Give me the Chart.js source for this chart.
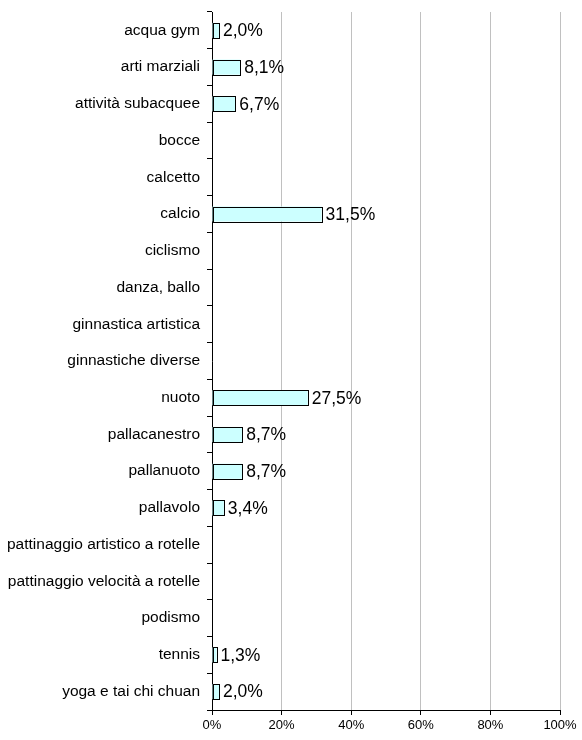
<!DOCTYPE html>
<html><head><meta charset="utf-8">
<script src="https://cdn.jsdelivr.net/npm/chart.js@4"></script>
<style>html,body{margin:0;padding:0;background:#fff}#wrap{width:582px;height:740px}</style>
</head><body><div id="wrap"><canvas id="c"></canvas></div>
<script>
const categories = ["acqua gym","arti marziali","attività subacquee","bocce","calcetto","calcio","ciclismo","danza, ballo","ginnastica artistica","ginnastiche diverse","nuoto","pallacanestro","pallanuoto","pallavolo","pattinaggio artistico a rotelle","pattinaggio velocità a rotelle","podismo","tennis","yoga e tai chi chuan"];
const values = [2.0,8.1,6.7,0,0,31.5,0,0,0,0,27.5,8.7,8.7,3.4,0,0,0,1.3,2.0];
const xTicks = [0,20,40,60,80,100];

const FONT = '"Liberation Sans", Arial, sans-serif';
const labelPlugin = {
  id:'vlabels',
  afterDatasetsDraw(chart){
    const ctx = chart.ctx;
    const meta = chart.getDatasetMeta(0);
    ctx.save();
    ctx.strokeStyle = '#000';
    ctx.lineWidth = 1;
    meta.data.forEach((bar,i)=>{
      if(!values[i]) return;
      const l = Math.round(bar.base), r = Math.round(bar.x);
      const t = Math.round(bar.y - bar.height/2), b = Math.round(bar.y + bar.height/2);
      ctx.strokeRect(l+0.5, t+0.5, r-l, b-t);
    });
    ctx.font = '17.5px ' + FONT;
    ctx.fillStyle = '#000';
    ctx.textBaseline = 'middle';
    ctx.textAlign = 'left';
    meta.data.forEach((bar,i)=>{
      const v = values[i];
      if(!v) return;
      ctx.fillText(v.toFixed(1).replace('.',',')+'%', bar.x+4, bar.y+1);
    });
    ctx.restore();
  }
};

new Chart(document.getElementById('c'),{
  type:'bar',
  data:{labels:categories,datasets:[{data:values,backgroundColor:'#ccffff',borderWidth:0,categoryPercentage:1,barPercentage:0.41}]},
  options:{
    indexAxis:'y',responsive:true,maintainAspectRatio:false,animation:false,
    layout:{padding:{left:0,top:12,right:22,bottom:0}},
    plugins:{legend:{display:false},tooltip:{enabled:false}},
    scales:{
      x:{min:0,max:100,
        afterBuildTicks(s){s.ticks = xTicks.map(v=>({value:v}));},
        afterFit(s){s.height=30;},
        grid:{color:'#c0c0c0',tickColor:'#000',tickLength:5,drawOnChartArea:true},
        border:{color:'#000',width:1},
        ticks:{color:'#000',padding:3,maxRotation:0,font:{family:FONT,size:13},callback:(v)=>v+'%'}
      },
      y:{
        afterFit(s){s.width=212; s.paddingTop=0; s.paddingBottom=0;},
        grid:{drawOnChartArea:false,tickColor:'#000',tickLength:5,offset:true},
        border:{color:'#000',width:1},
        ticks:{color:'#000',padding:7,autoSkip:false,font:{family:FONT,size:15.5}}
      }
    }
  },
  plugins:[labelPlugin]
});
</script></body></html>
